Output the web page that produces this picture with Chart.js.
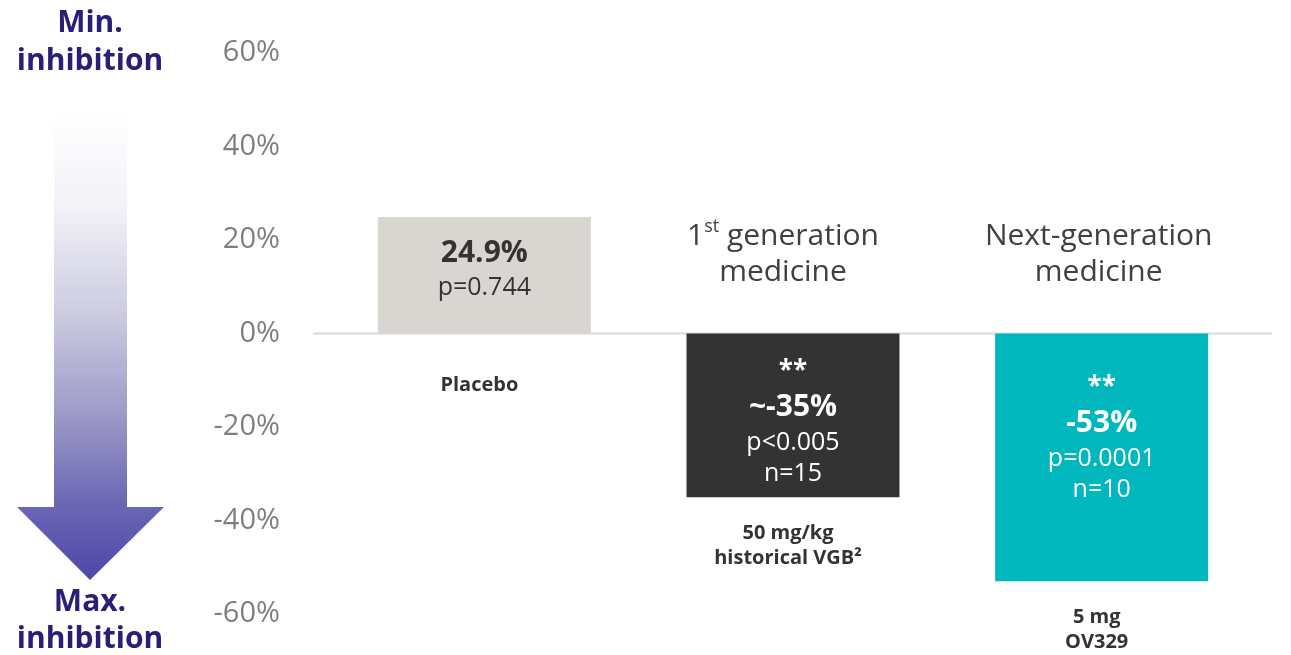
<!DOCTYPE html>
<html>
<head>
<meta charset="utf-8">
<script src="https://cdn.jsdelivr.net/npm/chart.js@4.4.0/dist/chart.umd.min.js"></script>
<style>
  html, body { margin: 0; padding: 0; background: #fff; }
  #wrap { width: 1291px; height: 655px; }
</style>
</head>
<body>
<div id="wrap"><canvas id="barChart" width="1291" height="655"></canvas></div>
<script>
// data
const categories = ["Placebo", "50 mg/kg historical VGB", "5 mg OV329"];
const categoryLines = [["Placebo"], ["50 mg/kg", "historical VGB\u00b2"], ["5 mg", "OV329"]];
const values = [24.9, -35, -53];
const valueLabels = ["24.9%", "~-35%", "-53%"];
const pLabels = ["p=0.744", "p<0.005", "p=0.0001"];
const nLabels = ["", "n=15", "n=10"];
const starLabels = ["", "**", "**"];
const groupLabels = [null, ["1|st| generation", "medicine"], ["Next-generation", "medicine"]];
const tickValues = [60, 40, 20, 0, -20, -40, -60];
const barColors = ["#d9d5d1", "#333333", "#00b7bd"];

const FONT = "'Open Sans', 'Noto Sans', sans-serif";

// text with a |superscript| part
function drawSupText(ctx, str, cx, cy, size) {
    const parts = str.split("|");
    const fonts = parts.map((p, i) => (i % 2 === 1 ? (size * 0.6) + "px " + FONT : size + "px " + FONT));
    let total = 0;
    const widths = parts.map((p, i) => { ctx.font = fonts[i]; const w = ctx.measureText(p).width; total += w; return w; });
    let x = cx - total / 2;
    ctx.textAlign = "left";
    parts.forEach((p, i) => {
        ctx.font = fonts[i];
        ctx.fillText(p, x, i % 2 === 1 ? cy - size * 0.32 : cy);
        x += widths[i];
    });
    ctx.textAlign = "center";
}

const slidePlugin = {
    id: "slide",
    beforeDatasetsDraw(chart) {
        const ctx = chart.ctx;
        const y0 = chart.scales.y.getPixelForValue(0);
        ctx.save();
        ctx.strokeStyle = "#dadada";
        ctx.lineWidth = 2;
        ctx.beginPath();
        ctx.moveTo(313, y0);
        ctx.lineTo(1272, y0);
        ctx.stroke();

        // direction arrow on the left
        const g = ctx.createLinearGradient(0, 110, 0, 580);
        g.addColorStop(0, "#ffffff");
        g.addColorStop(0.2, "#f3f3f8");
        g.addColorStop(0.45, "#c9c8e0");
        g.addColorStop(0.66, "#9a97c6");
        g.addColorStop(0.84, "#6b66b4");
        g.addColorStop(1, "#4f47a8");
        ctx.fillStyle = g;
        ctx.beginPath();
        ctx.moveTo(54, 110);
        ctx.lineTo(127, 110);
        ctx.lineTo(127, 507);
        ctx.lineTo(164, 507);
        ctx.lineTo(90, 580);
        ctx.lineTo(17, 507);
        ctx.lineTo(54, 507);
        ctx.closePath();
        ctx.fill();

        ctx.fillStyle = "#291e78";
        ctx.textAlign = "center";
        ctx.textBaseline = "middle";
        ctx.font = "bold 30px " + FONT;
        ctx.fillText("Min.", 90, 23);
        ctx.fillText("inhibition", 90, 61);
        ctx.fillText("Max.", 90, 602);
        ctx.fillText("inhibition", 90, 639);
        ctx.restore();
    },
    afterDatasetsDraw(chart) {
        const ctx = chart.ctx;
        const y0 = chart.scales.y.getPixelForValue(0);
        const bars = chart.getDatasetMeta(0).data;
        ctx.save();
        ctx.textAlign = "center";
        ctx.textBaseline = "middle";
        bars.forEach((bar, i) => {
            const x = bar.x;
            const top = Math.min(bar.y, bar.base);
            const bottom = Math.max(bar.y, bar.base);
            const light = values[i] < 0;
            const txt = light ? "#ffffff" : "#333333";

            // text inside bar
            let start = values[i] >= 0 ? top + 36 : y0 + (i === 1 ? 31 : 47);
            if (starLabels[i]) {
                ctx.fillStyle = txt;
                ctx.font = "bold 26px " + FONT;
                ctx.fillText(starLabels[i], x, start + 7);
                start += 43;
            }
            ctx.fillStyle = txt;
            ctx.font = "bold 30px " + FONT;
            ctx.fillText(valueLabels[i], x, start);
            ctx.font = "25px " + FONT;
            ctx.fillText(pLabels[i], x, start + 35);
            if (nLabels[i]) ctx.fillText(nLabels[i], x, start + 66);

            // category label below
            ctx.fillStyle = "#333333";
            ctx.font = "bold 20px " + FONT;
            const catTop = values[i] >= 0 ? y0 + 52 : bottom + 36;
            categoryLines[i].forEach((line, k) => ctx.fillText(line, x - 5, catTop + k * 25));

            // group heading above zero line
            if (groupLabels[i]) {
                ctx.fillStyle = "#404040";
                const gx = i === 1 ? x - 10 : x - 3;
                groupLabels[i].forEach((line, k) => drawSupText(ctx, line, gx, y0 - 97 + k * 36, 30));
            }
        });
        ctx.restore();
    }
};

const ctx = document.getElementById("barChart").getContext("2d");
new Chart(ctx, {
    type: "bar",
    data: {
        labels: categories,
        datasets: [{
            data: values,
            backgroundColor: barColors,
            borderWidth: 0,
            barPercentage: 0.69,
            categoryPercentage: 1
        }]
    },
    options: {
        responsive: false,
        animation: false,
        layout: { padding: { left: 200, right: 35, top: 53, bottom: 41 } },
        plugins: { legend: { display: false }, tooltip: { enabled: false } },
        scales: {
            x: { display: false },
            y: {
                min: -60,
                max: 60,
                afterFit(scale) {
                    scale.width = 130;
                    // tick padding is meant to be horizontal only here
                    scale.paddingTop = 0;
                    scale.paddingBottom = 0;
                },
                afterBuildTicks(scale) { scale.ticks = tickValues.map(v => ({ value: v })); },
                grid: { display: false, drawTicks: false },
                border: { display: false },
                ticks: {
                    padding: 50,
                    color: "#7f7f7f",
                    font: { family: FONT, size: 29 },
                    callback: v => v + "%"
                }
            }
        }
    },
    plugins: [slidePlugin]
});
</script>
</body>
</html>
